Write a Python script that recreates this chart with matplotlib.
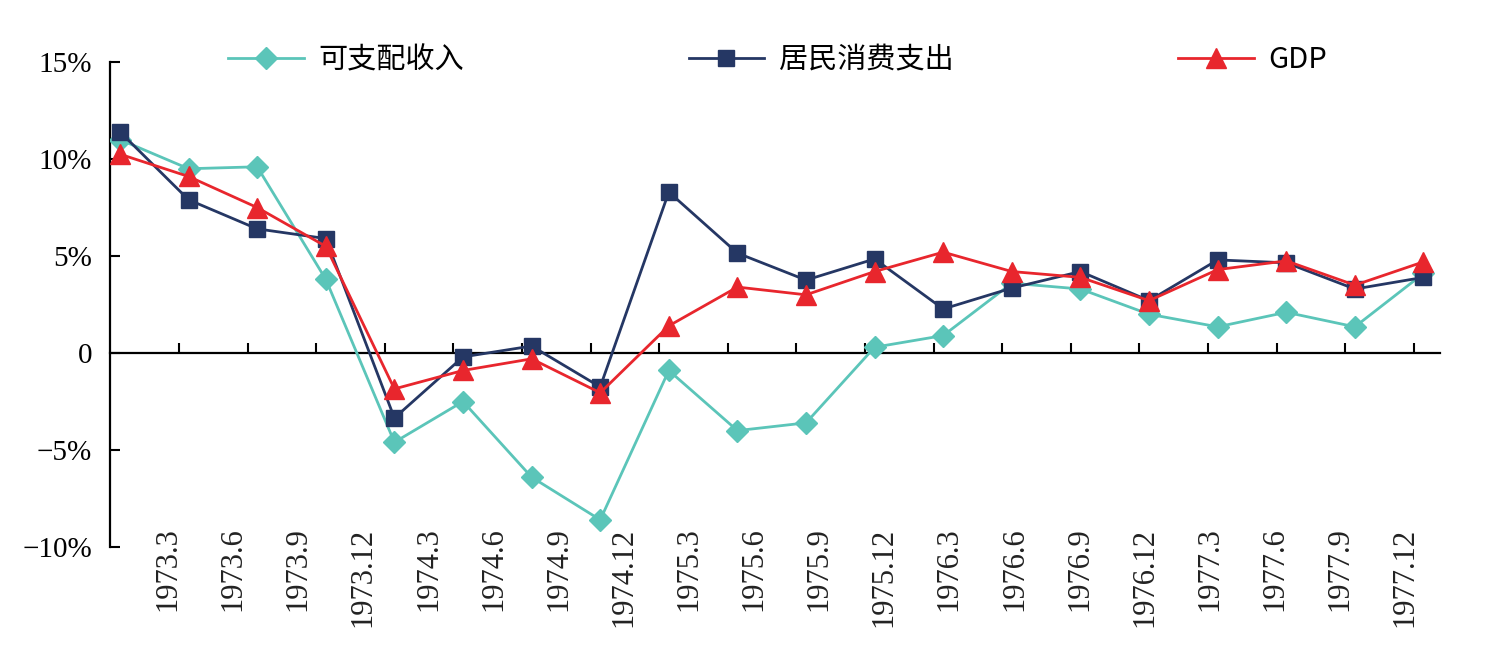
import numpy as np
from matplotlib import pyplot as plt

# 季度标签
quarters = ["1973.3", "1973.6", "1973.9", "1973.12", "1974.3", "1974.6", "1974.9",
            "1974.12", "1975.3", "1975.6", "1975.9", "1975.12", "1976.3", "1976.6",
            "1976.9", "1976.12", "1977.3", "1977.6", "1977.9", "1977.12"]

# 同比增速 (%)
income = [11.0, 9.5, 9.6, 3.8, -4.6, -2.5, -6.4, -8.6, -0.9, -4.0,
          -3.6, 0.3, 0.9, 3.6, 3.3, 2.0, 1.35, 2.1, 1.35, 4.1]
consumption = [11.4, 7.9, 6.4, 5.9, -3.35, -0.2, 0.36, -1.75, 8.3, 5.15,
               3.76, 4.85, 2.27, 3.35, 4.2, 2.7, 4.8, 4.65, 3.3, 3.9]
gdp = [10.25, 9.1, 7.5, 5.5, -1.85, -0.9, -0.3, -2.05, 1.4, 3.4,
       3.0, 4.2, 5.2, 4.2, 3.9, 2.7, 4.3, 4.75, 3.5, 4.7]

yticks = [-10, -5, 0, 5, 10, 15]
ytick_labels = ["\u221210%", "\u22125%", "0", "5%", "10%", "15%"]

serif = ["Liberation Serif", "DejaVu Serif"]
cjk = ["Noto Sans CJK SC", "DejaVu Sans"]

fig = plt.figure(figsize=(14.86, 6.58), dpi=100)
ax = fig.add_axes([0.074, 0.1687, 0.895, 0.737])

x = np.arange(len(quarters))

ax.plot(x, income, color="#5BC5B9", lw=2.0, marker="D", ms=11,
        label="可支配收入", zorder=3)
ax.plot(x, consumption, color="#253764", lw=2.0, marker="s", ms=12,
        label="居民消费支出", zorder=4)
ax.plot(x, gdp, color="#E8262D", lw=2.0, marker="^", ms=15,
        label="GDP", zorder=5)

ax.set_xlim(-0.146, 19.24)
ax.set_ylim(-10, 15)

for s in ["top", "right"]:
    ax.spines[s].set_visible(False)
ax.spines["bottom"].set_position(("data", 0))
ax.spines["bottom"].set_linewidth(1.6)
ax.spines["left"].set_linewidth(1.6)

# x 轴刻度线在零线上，朝上
ax.set_xticks(np.arange(len(quarters) - 1) + 0.86)
ax.tick_params(axis="x", direction="in", length=7, width=1.5, labelbottom=False)

ax.set_yticks(yticks)
ax.set_yticklabels(ytick_labels, fontfamily=serif, fontsize=21)
ax.tick_params(axis="y", direction="in", length=7, width=1.5, pad=13)

# 季度标签放在图底部
for i, q in enumerate(quarters):
    ax.text(0.70 + 0.949 * i, -9.0, q, rotation=90, ha="center", va="top",
            fontsize=22, family=serif, color="#222222")

leg = ax.legend(loc="center left", bbox_to_anchor=(0.0887, 1.004), ncol=3,
                frameon=False, prop={"family": cjk, "size": 21},
                handlelength=2.6, handletextpad=0.5, columnspacing=7.7,
                borderpad=0, borderaxespad=0)

plt.savefig("out.png", dpi=100)
